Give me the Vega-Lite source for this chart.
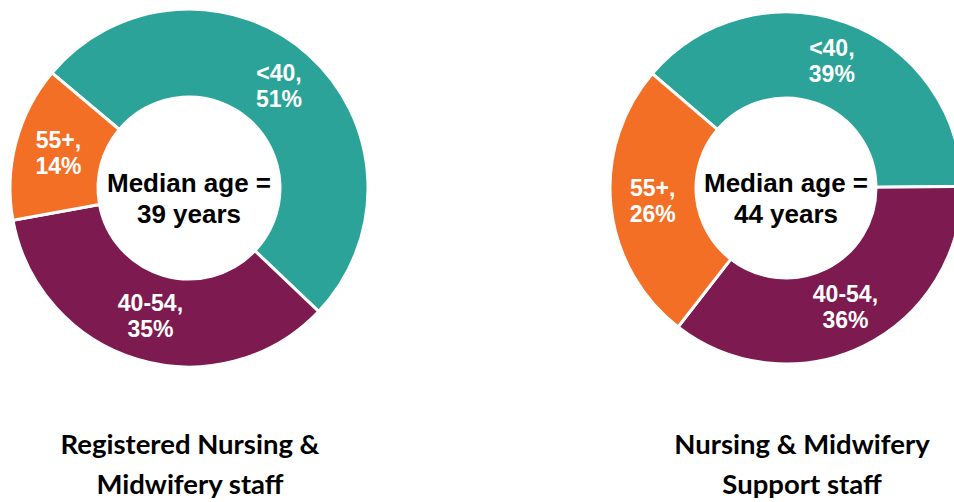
{
  "$schema": "https://vega.github.io/schema/vega-lite/v6.json",
  "background": "white",
  "padding": 0,
  "datasets": {
    "ages": [
      {"group": "Registered Nursing & Midwifery staff", "age": "<40", "pct": 51, "median": 39},
      {"group": "Registered Nursing & Midwifery staff", "age": "40-54", "pct": 35, "median": 39},
      {"group": "Registered Nursing & Midwifery staff", "age": "55+", "pct": 14, "median": 39},
      {"group": "Nursing & Midwifery Support staff", "age": "<40", "pct": 39, "median": 44},
      {"group": "Nursing & Midwifery Support staff", "age": "40-54", "pct": 36, "median": 44},
      {"group": "Nursing & Midwifery Support staff", "age": "55+", "pct": 26, "median": 44}
    ]
  },
  "config": {"view": {"stroke": null}, "concat": {"spacing": 219}},
  "hconcat": [
    {
      "width": 378,
      "height": 376,
      "title": {"text": ["Registered Nursing &", "Midwifery staff"], "orient": "bottom", "anchor": "middle", "font": "Lato", "fontSize": 27.5, "fontWeight": "bold", "lineHeight": 40, "offset": 56, "color": "black", "dx": 1},
      "data": {"name": "ages"},
      "transform": [
        {"filter": "datum.group === 'Registered Nursing & Midwifery staff'"},
        {"calculate": "indexof(['<40','40-54','55+'], datum.age)", "as": "ord"},
        {"calculate": "datum.age + ',\\n' + datum.pct + '%'", "as": "label"}
      ],
      "layer": [
        {
          "mark": {"type": "arc", "innerRadius": 91, "outerRadius": 179, "stroke": "white", "strokeWidth": 3},
          "encoding": {
            "theta": {"field": "pct", "type": "quantitative", "stack": true, "scale": {"range": [-0.8727, 5.4105]}},
            "order": {"field": "ord", "type": "quantitative"},
            "color": {"field": "age", "type": "nominal", "legend": null, "scale": {"domain": ["<40", "40-54", "55+"], "range": ["#2BA398", "#7D1A4F", "#F36F26"]}}
          }
        },
        {
          "mark": {"type": "text", "radius": 135, "font": "Liberation Sans", "fontSize": 23, "fontWeight": "bold", "color": "white", "lineBreak": "\n", "lineHeight": 26, "align": "center", "baseline": "middle", "dy": -13},
          "encoding": {
            "theta": {"field": "pct", "type": "quantitative", "stack": true},
            "order": {"field": "ord", "type": "quantitative"},
            "text": {"field": "label", "type": "nominal"}
          }
        },
        {
          "transform": [
            {"aggregate": [{"op": "max", "field": "median", "as": "median"}]},
            {"calculate": "'Median age =\\n' + datum.median + ' years'", "as": "mtext"}
          ],
          "mark": {"type": "text", "font": "Liberation Sans", "fontSize": 26, "fontWeight": "bold", "color": "black", "lineBreak": "\n", "lineHeight": 31, "align": "center", "baseline": "middle", "dy": -4},
          "encoding": {"text": {"field": "mtext", "type": "nominal"}}
        }
      ]
    },
    {
      "width": 378,
      "height": 376,
      "title": {"text": ["Nursing & Midwifery", "Support staff"], "orient": "bottom", "anchor": "middle", "font": "Lato", "fontSize": 27.5, "fontWeight": "bold", "lineHeight": 40, "offset": 56, "color": "black", "dx": 16},
      "data": {"name": "ages"},
      "transform": [
        {"filter": "datum.group === 'Nursing & Midwifery Support staff'"},
        {"calculate": "indexof(['<40','40-54','55+'], datum.age)", "as": "ord"},
        {"calculate": "datum.age + ',\\n' + datum.pct + '%'", "as": "label"}
      ],
      "layer": [
        {
          "mark": {"type": "arc", "innerRadius": 90, "outerRadius": 176, "stroke": "white", "strokeWidth": 3},
          "encoding": {
            "theta": {"field": "pct", "type": "quantitative", "stack": true, "scale": {"range": [-0.8639, 5.4193]}},
            "order": {"field": "ord", "type": "quantitative"},
            "color": {"field": "age", "type": "nominal", "legend": null, "scale": {"domain": ["<40", "40-54", "55+"], "range": ["#2BA398", "#7D1A4F", "#F36F26"]}}
          }
        },
        {
          "mark": {"type": "text", "radius": 134, "font": "Liberation Sans", "fontSize": 23, "fontWeight": "bold", "color": "white", "lineBreak": "\n", "lineHeight": 26, "align": "center", "baseline": "middle", "dy": -13},
          "encoding": {
            "theta": {"field": "pct", "type": "quantitative", "stack": true},
            "order": {"field": "ord", "type": "quantitative"},
            "text": {"field": "label", "type": "nominal"}
          }
        },
        {
          "transform": [
            {"aggregate": [{"op": "max", "field": "median", "as": "median"}]},
            {"calculate": "'Median age =\\n' + datum.median + ' years'", "as": "mtext"}
          ],
          "mark": {"type": "text", "font": "Liberation Sans", "fontSize": 26, "fontWeight": "bold", "color": "black", "lineBreak": "\n", "lineHeight": 31, "align": "center", "baseline": "middle", "dy": -4},
          "encoding": {"text": {"field": "mtext", "type": "nominal"}}
        }
      ]
    }
  ]
}
